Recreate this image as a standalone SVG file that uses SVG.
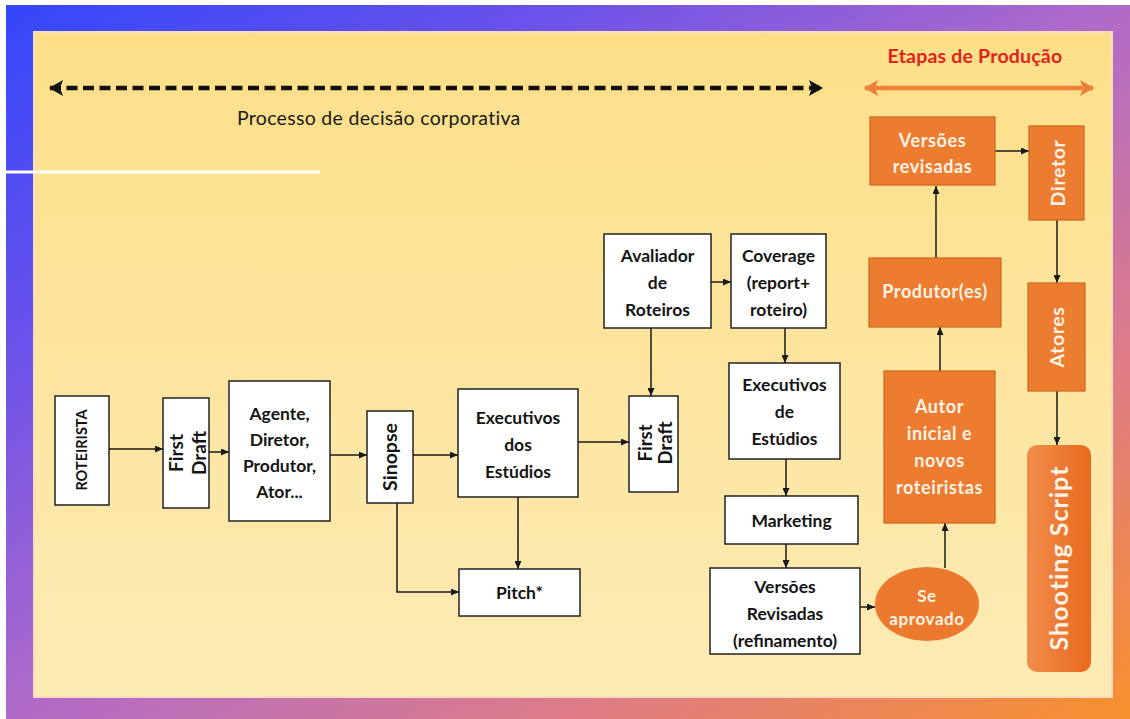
<svg xmlns="http://www.w3.org/2000/svg" width="1130" height="719" viewBox="0 0 1130 719">
  <defs>
    <linearGradient id="frameGrad" x1="0" y1="0" x2="1" y2="1">
      <stop offset="0" stop-color="#3347fa"/>
      <stop offset="0.25" stop-color="#6c52ea"/>
      <stop offset="0.5" stop-color="#b06bc8"/>
      <stop offset="0.75" stop-color="#df7c86"/>
      <stop offset="1" stop-color="#f8902c"/>
    </linearGradient>
    <linearGradient id="panelGrad" x1="0" y1="0" x2="0" y2="1">
      <stop offset="0" stop-color="#fddf88"/>
      <stop offset="1" stop-color="#fdebb6"/>
    </linearGradient>
    <linearGradient id="scriptGrad" x1="0" y1="0" x2="1" y2="0">
      <stop offset="0" stop-color="#f18d4c"/>
      <stop offset="1" stop-color="#e8691f"/>
    </linearGradient>
    <marker id="arrow" markerWidth="8" markerHeight="7" refX="8" refY="3.5" orient="auto" markerUnits="userSpaceOnUse">
      <path d="M0,0 L8,3.5 L0,7 Z" fill="#1a1a1a"/>
    </marker>
    <marker id="bigArrowBlack" markerWidth="14" markerHeight="16" refX="13" refY="8" orient="auto-start-reverse" markerUnits="userSpaceOnUse">
      <path d="M0,0 L14,8 L0,16 L3,8 Z" fill="#111"/>
    </marker>
    <marker id="bigArrowOrange" markerWidth="14" markerHeight="16" refX="13" refY="8" orient="auto-start-reverse" markerUnits="userSpaceOnUse">
      <path d="M0,0 L14,8 L0,16 L3,8 Z" fill="#ee7f3a"/>
    </marker>
    <style>
      .box { fill: #ffffff; stroke: #222222; stroke-width: 1.5; }
      .obox { fill: #ec7c30; stroke: #d0651c; stroke-width: 1.2; }
      .lbl { font-family: Lato, "Liberation Sans", sans-serif; font-weight: bold; font-size: 17.5px; fill: #141414; text-anchor: middle; }
      .olbl { font-family: Lato, "Liberation Sans", sans-serif; font-weight: bold; font-size: 18px; letter-spacing: 0.6px; fill: #fff3e6; text-anchor: middle; }
      .conn { fill: none; stroke: #1a1a1a; stroke-width: 1.5; marker-end: url(#arrow); }
    </style>
  </defs>

  <!-- frame and panel -->
  <rect x="0" y="0" width="1130" height="719" fill="#ffffff"/>
  <rect x="6" y="5" width="1124" height="714" fill="url(#frameGrad)"/>
  <rect x="34" y="32" width="1078" height="665" fill="url(#panelGrad)" stroke="#f7dcc0" stroke-width="2"/>
  <line x1="6" y1="172" x2="320" y2="172" stroke="#ffffff" stroke-width="3"/>

  <!-- phase headers -->
  <g id="header-decisao">
    <line x1="50" y1="88" x2="822" y2="88" stroke="#111" stroke-width="4.5" stroke-dasharray="11,5.5" marker-start="url(#bigArrowBlack)" marker-end="url(#bigArrowBlack)"/>
    <text x="237" y="125" font-family="Lato, 'Liberation Sans', sans-serif" font-size="19.5" letter-spacing="0.3" fill="#1a1a1a">Processo de decisão corporativa</text>
  </g>
  <g id="header-producao">
    <line x1="865" y1="88" x2="1093" y2="88" stroke="#ee7f3a" stroke-width="4.5" marker-start="url(#bigArrowOrange)" marker-end="url(#bigArrowOrange)"/>
    <text x="975" y="63" text-anchor="middle" font-family="Lato, 'Liberation Sans', sans-serif" font-weight="bold" font-size="19.5" letter-spacing="0.2" fill="#e3231b">Etapas de Produção</text>
  </g>

  <!-- connectors -->
  <g id="connectors">
    <line class="conn" x1="109" y1="449" x2="163" y2="449"/>
    <line class="conn" x1="209" y1="452" x2="229" y2="452"/>
    <line class="conn" x1="330" y1="455" x2="367" y2="455"/>
    <line class="conn" x1="413" y1="455" x2="458" y2="455"/>
    <polyline class="conn" points="397,503 397,592 459,592"/>
    <line class="conn" x1="518" y1="497" x2="518" y2="569"/>
    <line class="conn" x1="578" y1="442" x2="629" y2="442"/>
    <line class="conn" x1="651" y1="328" x2="651" y2="396"/>
    <line class="conn" x1="711" y1="282" x2="731" y2="282"/>
    <line class="conn" x1="785" y1="328" x2="785" y2="363"/>
    <line class="conn" x1="786" y1="459" x2="786" y2="496"/>
    <line class="conn" x1="786" y1="544" x2="786" y2="568"/>
    <line class="conn" x1="852" y1="607" x2="875" y2="607"/>
    <line class="conn" x1="945" y1="568" x2="945" y2="523"/>
    <line class="conn" x1="940" y1="371" x2="940" y2="327"/>
    <line class="conn" x1="936" y1="258" x2="936" y2="186"/>
    <line class="conn" x1="995" y1="151" x2="1029" y2="151"/>
    <line class="conn" x1="1057" y1="220" x2="1057" y2="283"/>
    <line class="conn" x1="1057" y1="391" x2="1057" y2="445"/>
  </g>

  <!-- decision nodes -->
  <g id="roteirista">
    <rect class="box" x="55" y="396" width="54" height="109"/>
    <text class="lbl" transform="translate(82,450) rotate(-90)" y="5" style="font-size:14.5px">ROTEIRISTA</text>
  </g>
  <g id="first-draft-1">
    <rect class="box" x="163" y="398" width="46" height="110"/>
    <text class="lbl" transform="translate(186,453) rotate(-90)" style="font-size:19px"><tspan x="0" y="-3">First</tspan><tspan x="0" y="20">Draft</tspan></text>
  </g>
  <g id="agente">
    <rect class="box" x="229" y="381" width="101" height="140"/>
    <text class="lbl"><tspan x="279.5" y="420">Agente,</tspan><tspan x="279.5" y="446">Diretor,</tspan><tspan x="279.5" y="472">Produtor,</tspan><tspan x="279.5" y="498">Ator...</tspan></text>
  </g>
  <g id="sinopse">
    <rect class="box" x="367" y="411" width="46" height="92"/>
    <text class="lbl" transform="translate(390,457) rotate(-90)" y="6.5" style="font-size:19.5px">Sinopse</text>
  </g>
  <g id="executivos-estudios">
    <rect class="box" x="458" y="389" width="120" height="108"/>
    <text class="lbl"><tspan x="518" y="424">Executivos</tspan><tspan x="518" y="451">dos</tspan><tspan x="518" y="478">Estúdios</tspan></text>
  </g>
  <g id="pitch">
    <rect class="box" x="459" y="569" width="121" height="47"/>
    <text class="lbl" x="519.5" y="599">Pitch*</text>
  </g>
  <g id="avaliador">
    <rect class="box" x="604" y="234" width="107" height="94"/>
    <text class="lbl"><tspan x="657.5" y="262">Avaliador</tspan><tspan x="657.5" y="289">de</tspan><tspan x="657.5" y="316">Roteiros</tspan></text>
  </g>
  <g id="coverage">
    <rect class="box" x="731" y="234" width="95" height="94"/>
    <text class="lbl"><tspan x="778.5" y="262">Coverage</tspan><tspan x="778.5" y="289">(report+</tspan><tspan x="778.5" y="316">roteiro)</tspan></text>
  </g>
  <g id="first-draft-2">
    <rect class="box" x="629" y="396" width="49" height="96"/>
    <text class="lbl" transform="translate(653.5,443) rotate(-90)" style="font-size:18.5px"><tspan x="0" y="-1.5">First</tspan><tspan x="0" y="18.5">Draft</tspan></text>
  </g>
  <g id="executivos-de-estudios">
    <rect class="box" x="729" y="363" width="111" height="96"/>
    <text class="lbl"><tspan x="784.5" y="391">Executivos</tspan><tspan x="784.5" y="418">de</tspan><tspan x="784.5" y="445">Estúdios</tspan></text>
  </g>
  <g id="marketing">
    <rect class="box" x="725" y="496" width="133" height="48"/>
    <text class="lbl" x="791.5" y="527">Marketing</text>
  </g>
  <g id="versoes-revisadas-refinamento">
    <rect class="box" x="710" y="568" width="150" height="86"/>
    <text class="lbl"><tspan x="785" y="593">Versões</tspan><tspan x="785" y="620">Revisadas</tspan><tspan x="785" y="647">(refinamento)</tspan></text>
  </g>

  <!-- production nodes -->
  <g id="se-aprovado">
    <ellipse cx="927" cy="604" rx="52" ry="37" fill="#ec7a2e"/>
    <text class="olbl" style="font-size:17px"><tspan x="927" y="602">Se</tspan><tspan x="927" y="625">aprovado</tspan></text>
  </g>
  <g id="autor">
    <rect class="obox" x="884" y="371" width="111" height="152"/>
    <text class="olbl"><tspan x="939.5" y="413">Autor</tspan><tspan x="939.5" y="440">inicial e</tspan><tspan x="939.5" y="467">novos</tspan><tspan x="939.5" y="494">roteiristas</tspan></text>
  </g>
  <g id="produtores">
    <rect class="obox" x="869" y="258" width="132" height="69"/>
    <text class="olbl" x="935" y="298">Produtor(es)</text>
  </g>
  <g id="versoes-revisadas">
    <rect class="obox" x="870" y="117" width="125" height="68"/>
    <text class="olbl"><tspan x="932.5" y="147">Versões</tspan><tspan x="932.5" y="173">revisadas</tspan></text>
  </g>
  <g id="diretor">
    <rect class="obox" x="1029" y="126" width="55" height="94"/>
    <text class="olbl" transform="translate(1056.5,173) rotate(-90)" y="8" style="font-size:19.5px">Diretor</text>
  </g>
  <g id="atores">
    <rect class="obox" x="1028" y="283" width="57" height="108"/>
    <text class="olbl" transform="translate(1056.5,337) rotate(-90)" y="7.5" style="font-size:19.5px">Atores</text>
  </g>
  <g id="shooting-script">
    <rect x="1027" y="445" width="64" height="227" rx="10" ry="10" fill="url(#scriptGrad)"/>
    <text class="olbl" transform="translate(1059,558) rotate(-90)" y="8.5" style="font-size:25px;letter-spacing:1px">Shooting Script</text>
  </g>
</svg>
